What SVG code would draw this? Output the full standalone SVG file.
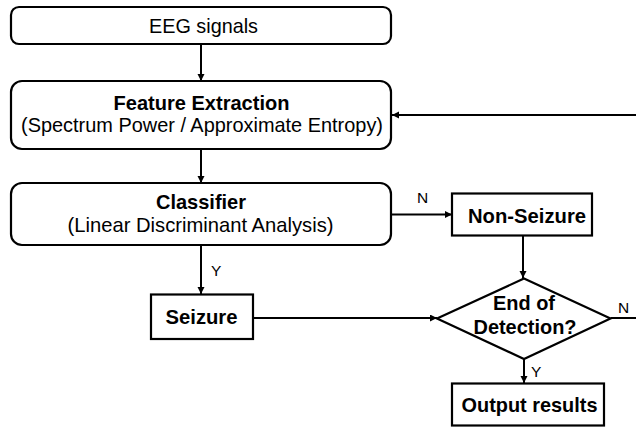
<svg xmlns="http://www.w3.org/2000/svg" width="636" height="427" viewBox="0 0 636 427">
  <style>
    .box { fill: #ffffff; stroke: #000000; stroke-width: 2.2; }
    .lbl { font-family: "Liberation Sans", Arial, sans-serif; font-size: 21px; fill: #000000; text-anchor: middle; }
    .b { font-weight: bold; }
    .yn { font-family: "Liberation Sans", Arial, sans-serif; font-size: 15.5px; fill: #000000; }
    .wire { fill: none; stroke: #000000; stroke-width: 2; }
  </style>
  <defs>
    <marker id="arrow" markerUnits="userSpaceOnUse" markerWidth="8" markerHeight="8" refX="7" refY="3.5" orient="auto">
      <path d="M0,0 L7,3.5 L0,7 z" fill="#000000"/>
    </marker>
  </defs>
  <rect width="636" height="427" fill="#ffffff"/>

  <!-- connectors -->
  <g id="connectors">
    <line class="wire" x1="201" y1="44" x2="201" y2="81" marker-end="url(#arrow)"/>
    <line class="wire" x1="201" y1="149" x2="201" y2="183" marker-end="url(#arrow)"/>
    <line class="wire" x1="201" y1="245" x2="201" y2="294" marker-end="url(#arrow)"/>
    <line class="wire" x1="391" y1="214.5" x2="452" y2="214.5" marker-end="url(#arrow)"/>
    <line class="wire" x1="523" y1="236" x2="523" y2="278" marker-end="url(#arrow)"/>
    <line class="wire" x1="253" y1="318" x2="437" y2="318" marker-end="url(#arrow)"/>
    <line class="wire" x1="524" y1="359" x2="524" y2="383" marker-end="url(#arrow)"/>
    <line class="wire" x1="610.5" y1="318" x2="636" y2="318"/>
    <line class="wire" x1="636" y1="115" x2="392" y2="115" marker-end="url(#arrow)"/>
    <text class="yn" x="417" y="203">N</text>
    <text class="yn" x="211" y="276">Y</text>
    <text class="yn" x="618" y="313">N</text>
    <text class="yn" x="531" y="377">Y</text>
  </g>

  <!-- nodes -->
  <g id="eeg-signals">
    <rect class="box" x="11" y="7" width="380" height="37" rx="8"/>
    <text class="lbl" x="203.5" y="33" textLength="109" lengthAdjust="spacingAndGlyphs">EEG signals</text>
  </g>
  <g id="feature-extraction">
    <rect class="box" x="11" y="81" width="380" height="68" rx="11"/>
    <text class="lbl b" x="201.5" y="110" textLength="176" lengthAdjust="spacingAndGlyphs">Feature Extraction</text>
    <text class="lbl" x="202" y="132" textLength="362" lengthAdjust="spacingAndGlyphs">(Spectrum Power / Approximate Entropy)</text>
  </g>
  <g id="classifier">
    <rect class="box" x="11" y="183" width="380" height="62" rx="11"/>
    <text class="lbl b" x="201" y="208.5" textLength="90" lengthAdjust="spacingAndGlyphs">Classifier</text>
    <text class="lbl" x="200.5" y="231.5" textLength="266" lengthAdjust="spacingAndGlyphs">(Linear Discriminant Analysis)</text>
  </g>
  <g id="non-seizure">
    <rect class="box" x="452" y="193.5" width="140" height="42"/>
    <text class="lbl b" x="527" y="223" textLength="118" lengthAdjust="spacingAndGlyphs">Non-Seizure</text>
  </g>
  <g id="seizure">
    <rect class="box" x="151" y="294.5" width="102" height="44.5"/>
    <text class="lbl b" x="201.5" y="324" textLength="72" lengthAdjust="spacingAndGlyphs">Seizure</text>
  </g>
  <g id="end-of-detection">
    <polygon class="box" points="524,278.5 610.5,318.5 524,359 437,318.5"/>
    <text class="lbl b" x="524" y="310" textLength="62" lengthAdjust="spacingAndGlyphs">End of</text>
    <text class="lbl b" x="525" y="333.5" textLength="103" lengthAdjust="spacingAndGlyphs">Detection?</text>
  </g>
  <g id="output-results">
    <rect class="box" x="452" y="383.5" width="152" height="42"/>
    <text class="lbl b" x="529.5" y="412" textLength="136" lengthAdjust="spacingAndGlyphs">Output results</text>
  </g>
</svg>
